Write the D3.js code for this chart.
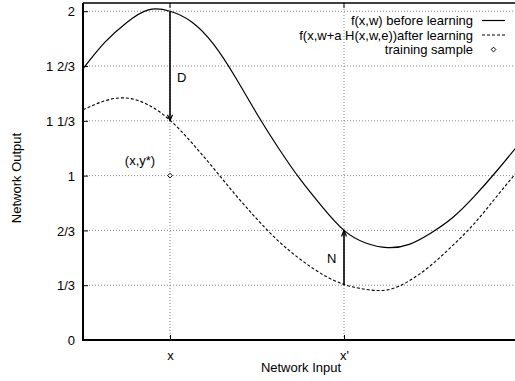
<!DOCTYPE html>
<html>
<head>
<meta charset="utf-8">
<script src="https://cdn.jsdelivr.net/npm/d3@7"></script>
<style>
  html, body { margin: 0; padding: 0; background: #fff; }
  svg { display: block; font-family: "Liberation Sans", Arial, Helvetica, sans-serif; }
</style>
</head>
<body>
<svg id="chart" width="515" height="381"></svg>
<script>
// ---- data ----
const inputs = [0, 0.5, 1, 1.5, 2, 2.5, 3, 3.5, 4, 4.5, 5, 5.5, 6, 6.5, 7, 7.5, 8, 8.5, 9, 9.5, 10];
const beforeLearning = [1.65, 1.81, 1.93, 2.008, 2.0, 1.935, 1.80, 1.60, 1.375, 1.165, 0.975, 0.81, 0.667, 0.59, 0.562, 0.582, 0.651, 0.745, 0.875, 1.025, 1.185];
const afterLearning = [1.40, 1.455, 1.472, 1.43, 1.337, 1.20, 1.045, 0.885, 0.735, 0.60, 0.49, 0.40, 0.338, 0.308, 0.305, 0.36, 0.455, 0.575, 0.71, 0.87, 1.03];
const sampleX = [2];
const sampleY = [1];
const xTickValues = [2, 6];
const xTickLabels = ["x", "x'"];
const yTickValues = [0, 1/3, 2/3, 1, 4/3, 5/3, 2];
const yTickLabels = ["0", "1/3", "2/3", "1", "1 1/3", "1 2/3", "2"];
const arrowX = [2, 6];
const arrowFrom = [2, 1/3];
const arrowTo = [4/3, 2/3];
const arrowLabels = ["D", "N"];
const legendLabels = ["f(x,w) before learning", "f(x,w+a H(x,w,e))after learning", "training sample"];

// ---- layout ----
const svg = d3.select("#chart");
const pLeft = 83, pRight = 518, pTop = 3, pBottom = 340;
const x = d3.scaleLinear().domain([0, 10]).range([pLeft, pRight]);
const y = d3.scaleLinear().domain([0, 2.05]).range([pBottom, pTop]);
const fontSize = 13;

// clip
svg.append("defs").append("clipPath").attr("id", "clip")
  .append("rect").attr("x", pLeft).attr("y", pTop).attr("width", pRight - pLeft).attr("height", pBottom - pTop);

// grid
const grid = svg.append("g");
grid.selectAll("line.h").data(yTickValues.filter(v => v > 0)).enter().append("line")
  .attr("x1", pLeft).attr("x2", 515).attr("y1", d => y(d)).attr("y2", d => y(d))
  .attr("stroke", "#888").attr("stroke-width", 1).attr("stroke-dasharray", "1,2");
grid.selectAll("line.v").data(xTickValues).enter().append("line")
  .attr("x1", d => x(d)).attr("x2", d => x(d)).attr("y1", pTop).attr("y2", pBottom)
  .attr("stroke", "#888").attr("stroke-width", 1).attr("stroke-dasharray", "1,2");

// axes via d3 axis generators
const yAxis = d3.axisLeft(y).tickValues(yTickValues).tickFormat((d, i) => yTickLabels[i]).tickSize(-5).tickPadding(8);
const gy = svg.append("g").attr("transform", `translate(${pLeft},0)`).call(yAxis);
gy.select(".domain").remove();
gy.selectAll("text").attr("font-size", fontSize).attr("font-family", "Liberation Sans, Arial, sans-serif").attr("fill", "#000").attr("dy", "0.36em").attr("x", -8);
gy.selectAll(".tick line").attr("stroke", "#000");

const xAxis = d3.axisBottom(x).tickValues(xTickValues).tickFormat((d, i) => xTickLabels[i]).tickSize(-5).tickPadding(11);
const gx = svg.append("g").attr("transform", `translate(0,${pBottom})`).call(xAxis);
gx.select(".domain").remove();
gx.selectAll("text").attr("font-size", fontSize).attr("font-family", "Liberation Sans, Arial, sans-serif").attr("fill", "#000");
gx.selectAll(".tick line").attr("stroke", "#000");

// top ticks
svg.append("g").selectAll("line").data(xTickValues).enter().append("line")
  .attr("x1", d => x(d)).attr("x2", d => x(d)).attr("y1", pTop).attr("y2", pTop + 5)
  .attr("stroke", "#000");

// frame
svg.append("line").attr("x1", pLeft).attr("x2", pLeft).attr("y1", pTop).attr("y2", pBottom + 1).attr("stroke", "#000").attr("stroke-width", 2);
svg.append("line").attr("x1", pLeft).attr("x2", 515).attr("y1", pBottom).attr("y2", pBottom).attr("stroke", "#000").attr("stroke-width", 2);
svg.append("line").attr("x1", pLeft).attr("x2", 515).attr("y1", pTop).attr("y2", pTop).attr("stroke", "#000").attr("stroke-width", 1.5);

// curves
const line = d3.line().curve(d3.curveNatural).x((d, i) => x(inputs[i])).y(d => y(d));
const plot = svg.append("g").attr("clip-path", "url(#clip)");
plot.append("path").attr("d", line(beforeLearning)).attr("fill", "none").attr("stroke", "#000").attr("stroke-width", 1.2);
plot.append("path").attr("d", line(afterLearning)).attr("fill", "none").attr("stroke", "#000").attr("stroke-width", 1.1).attr("stroke-dasharray", "3,2");

// arrows
function arrowHead(g, px, py, dir) {
  const len = 6, half = 2.5;
  g.append("path")
    .attr("d", `M${px - half},${py - dir * len} L${px},${py} L${px + half},${py - dir * len}`)
    .attr("fill", "none").attr("stroke", "#000").attr("stroke-width", 1.2);
}
const arrows = svg.append("g");
arrowX.forEach((ax, i) => {
  const x0 = x(ax), y0 = y(arrowFrom[i]), y1 = y(arrowTo[i]);
  arrows.append("line").attr("x1", x0).attr("x2", x0).attr("y1", y0).attr("y2", y1)
    .attr("stroke", "#000").attr("stroke-width", 1.6);
  const dir = y1 > y0 ? 1 : -1;
  arrowHead(arrows, x0, y1, dir);
});
arrows.append("text").attr("x", x(arrowX[0]) + 7).attr("y", (y(arrowFrom[0]) + y(arrowTo[0])) / 2 + 16)
  .attr("font-size", fontSize).text(arrowLabels[0]);
arrows.append("text").attr("x", x(arrowX[1]) - 17).attr("y", (y(arrowFrom[1]) + y(arrowTo[1])) / 2 + 5)
  .attr("font-size", fontSize).text(arrowLabels[1]);

// training sample
svg.append("g").selectAll("path").data(sampleX).enter().append("path")
  .attr("d", d3.symbol().type(d3.symbolDiamond2).size(14))
  .attr("transform", (d, i) => `translate(${x(d)},${y(sampleY[i])})`)
  .attr("fill", "#fff").attr("stroke", "#000").attr("stroke-width", 1);
svg.append("text").attr("x", x(sampleX[0]) - 30).attr("y", y(sampleY[0]) - 11)
  .attr("text-anchor", "middle").attr("font-size", fontSize).text("(x,y*)");

// legend
const lg = svg.append("g");
const legendTextX = 473, sampleX0 = 482, sampleX1 = 505, rowY0 = 20.5, rowH = 14.5;
legendLabels.forEach((lab, i) => {
  const ry = rowY0 + i * rowH;
  lg.append("text").attr("x", legendTextX).attr("y", ry + 4.5).attr("text-anchor", "end")
    .attr("font-size", fontSize).text(lab);
});
lg.append("line").attr("x1", sampleX0).attr("x2", sampleX1).attr("y1", rowY0).attr("y2", rowY0).attr("stroke", "#000").attr("stroke-width", 1.2);
lg.append("line").attr("x1", sampleX0).attr("x2", sampleX1).attr("y1", rowY0 + rowH).attr("y2", rowY0 + rowH).attr("stroke", "#000").attr("stroke-width", 1.1).attr("stroke-dasharray", "3,2");
lg.append("path").attr("d", d3.symbol().type(d3.symbolDiamond2).size(14)).attr("transform", `translate(${(sampleX0 + sampleX1) / 2},${rowY0 + 2 * rowH})`)
  .attr("fill", "#fff").attr("stroke", "#000").attr("stroke-width", 1);

// axis titles
svg.append("text").attr("x", 301).attr("y", 372).attr("text-anchor", "middle").attr("font-size", fontSize).text("Network Input");
svg.append("text").attr("transform", "translate(21,178) rotate(-90)").attr("text-anchor", "middle").attr("font-size", fontSize).text("Network Output");
</script>
</body>
</html>
